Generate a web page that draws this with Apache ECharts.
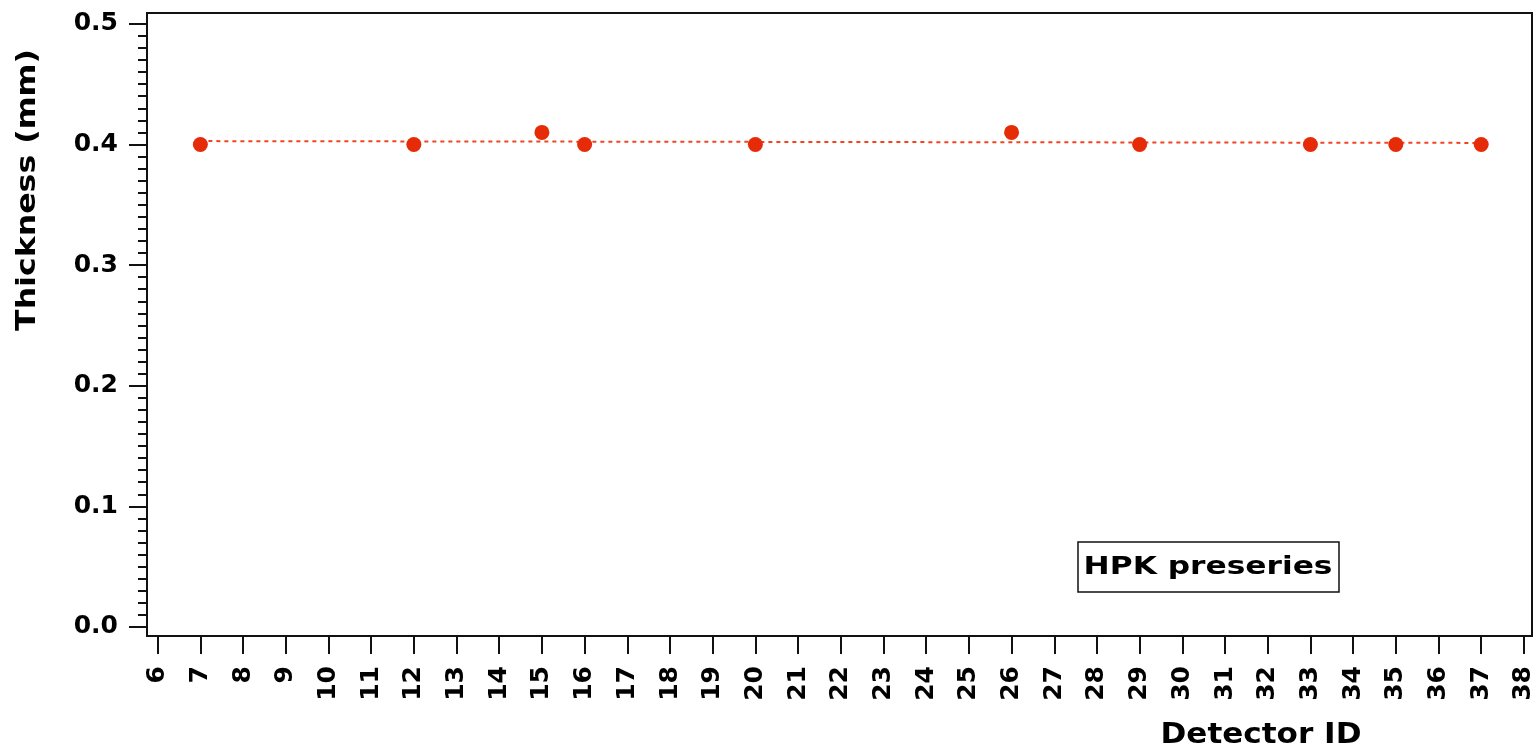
<!DOCTYPE html>
<html>
<head>
<meta charset="utf-8">
<title>Thickness vs Detector ID</title>
<script src="https://cdn.jsdelivr.net/npm/echarts@6/dist/echarts.min.js"></script>
<style>
  html, body { margin: 0; padding: 0; background: #ffffff; }
  #chart { width: 1537px; height: 754px; }
</style>
</head>
<body>
<div id="chart"></div>
<script>
// Measured sensor thickness per detector
const detectorIds = [7, 12, 15, 16, 20, 26, 29, 33, 35, 37];
const thickness   = [0.40, 0.40, 0.41, 0.40, 0.40, 0.41, 0.40, 0.40, 0.40, 0.40];

// Straight-line fit drawn across the measured range (end points)
const fitIds       = [7, 37];
const fitThickness = [0.4028, 0.4013];

// Axis tick values
const xTickValues = [6, 7, 8, 9, 10, 11, 12, 13, 14, 15, 16, 17, 18, 19, 20, 21, 22,
                     23, 24, 25, 26, 27, 28, 29, 30, 31, 32, 33, 34, 35, 36, 37, 38];
const yTickValues = [0.0, 0.1, 0.2, 0.3, 0.4, 0.5];
const yMinorTickValues = [];
for (let i = 0; i <= 50; i++) yMinorTickValues.push(i / 100);

const seriesName = 'HPK preseries';
const xTitle = 'Detector ID';
const yTitle = 'Thickness (mm)';

const X_MIN = 5.75, X_MAX = 38.19;
const Y_MIN = -0.0075, Y_MAX = 0.509;

const chart = echarts.init(document.getElementById('chart'), null, { renderer: 'canvas' });

const option = {
  backgroundColor: '#ffffff',
  animation: false,
  grid: {
    left: 147, top: 13, right: 5, bottom: 118,
    show: true, borderColor: '#111', borderWidth: 2, backgroundColor: 'transparent'
  },
  xAxis: {
    type: 'value',
    min: X_MIN, max: X_MAX,
    axisLine: { show: true, onZero: false, lineStyle: { color: '#111', width: 2 } },
    axisTick: { show: true, inside: false, length: 18, customValues: xTickValues,
                lineStyle: { color: '#111', width: 2 } },
    axisLabel: {
      customValues: xTickValues, rotate: 90, margin: 30,
      color: '#000', fontFamily: 'DejaVu Sans', fontWeight: 'bold', fontSize: 25,
      formatter: v => String(Math.round(v))
    },
    splitLine: { show: false }
  },
  yAxis: [
    {
      type: 'value', position: 'left',
      min: Y_MIN, max: Y_MAX,
      axisLine: { show: true, onZero: false, lineStyle: { color: '#111', width: 2 } },
      axisTick: { show: true, inside: false, length: 18, customValues: yTickValues,
                  lineStyle: { color: '#111', width: 2 } },
      axisLabel: {
        customValues: yTickValues, margin: 29,
        color: '#000', fontFamily: 'DejaVu Sans', fontWeight: 'bold', fontSize: 25,
        formatter: v => v.toFixed(1)
      },
      splitLine: { show: false }
    },
    {
      type: 'value', position: 'left',
      min: Y_MIN, max: Y_MAX,
      axisLine: { show: false },
      axisTick: { show: true, inside: false, length: 9, customValues: yMinorTickValues,
                  lineStyle: { color: '#111', width: 2 } },
      axisLabel: { show: false },
      splitLine: { show: false }
    }
  ],
  series: [
    {
      name: seriesName + ' fit',
      type: 'line',
      data: fitIds.map((x, i) => [x, fitThickness[i]]),
      showSymbol: false,
      lineStyle: { color: '#ee4522', width: 2, type: [4, 4] },
      z: 2
    },
    {
      name: seriesName,
      type: 'scatter',
      data: detectorIds.map((x, i) => [x, thickness[i]]),
      symbol: 'circle',
      symbolSize: 15,
      itemStyle: { color: '#e62b08', opacity: 1 },
      z: 3
    }
  ],
  graphic: [
    {
      type: 'text',
      x: 28, y: 190,
      rotation: Math.PI / 2,
      scaleX: 1.17,
      style: {
        text: yTitle, fill: '#000',
        font: 'bold 27px "DejaVu Sans"',
        align: 'center', verticalAlign: 'middle'
      }
    },
    {
      type: 'text',
      x: 1261, y: 736,
      scaleX: 1.11,
      style: {
        text: xTitle, fill: '#000',
        font: 'bold 28px "DejaVu Sans"',
        align: 'center', verticalAlign: 'middle'
      }
    },
    {
      type: 'rect',
      shape: { x: 1078, y: 542, width: 261, height: 50 },
      style: { fill: '#ffffff', stroke: '#111', lineWidth: 1.5 },
      z: 10
    },
    {
      type: 'text',
      x: 1208, y: 567,
      scaleX: 1.25,
      style: {
        text: seriesName, fill: '#000',
        font: 'bold 25px "DejaVu Sans"',
        align: 'center', verticalAlign: 'middle'
      },
      z: 11
    }
  ]
};

chart.setOption(option);
</script>
</body>
</html>
